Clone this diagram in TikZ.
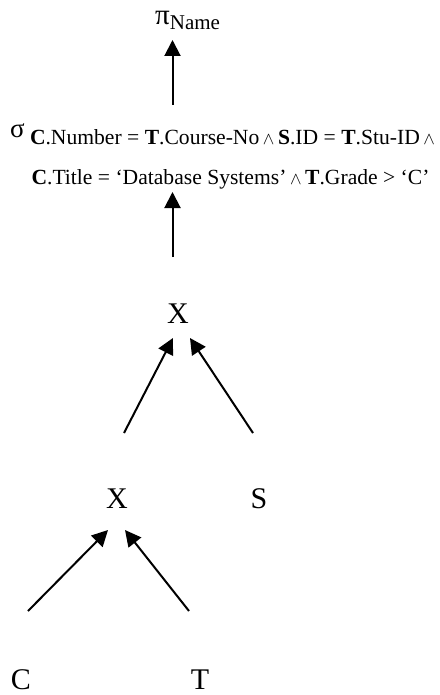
\documentclass[tikz,border=0pt]{standalone}
\usepackage{fontspec}
\setmainfont{Liberation Serif}
\usetikzlibrary{arrows.meta}
\begin{document}
\begin{tikzpicture}[x=1pt,y=-1pt,
  lbl/.style={inner sep=0pt,outer sep=0pt,anchor=base,font=\fontsize{30}{30}\selectfont},
  cond/.style={inner sep=0pt,outer sep=0pt,anchor=base west,font=\fontsize{21.6}{21.6}\selectfont},
  arr/.style={line width=2pt,-{Triangle[length=16pt,width=16pt]}}]
\useasboundingbox[fill=white] (0,0) rectangle (439,695);
\newcommand{\andop}{\,{\fontsize{16}{16}\selectfont$\wedge$}\,}
% projection
\node[inner sep=0pt,anchor=base west] (pi) at (155,25)
  {{\fontsize{29}{29}\selectfont π}\raisebox{-5pt}{\fontsize{21}{21}\selectfont Name}};
% selection
\node[inner sep=0pt,anchor=base west,font=\fontsize{27}{27}\selectfont] (sig) at (10,138) {σ};
\node[cond] (c1) at (30,145) {\textbf{C}.Number = \textbf{T}.Course-No\andop\textbf{S}.ID = \textbf{T}.Stu-ID\andop};
\node[cond] (c2) at (31.5,184) {\textbf{C}.Title = ‘Database Systems’\andop\textbf{T}.Grade > ‘C’};
% joins and relations
\node[lbl] (x1) at (178,323) {X};
\node[lbl] (x2) at (117,508) {X};
\node[lbl] (s) at (259,508) {S};
\node[lbl] (c) at (21,689) {C};
\node[lbl] (t) at (200,689) {T};
% connector ends
\coordinate (a1s) at (172.5,105);
\coordinate (a1e) at (172.5,40);
\coordinate (a2s) at (172.5,257);
\coordinate (a2e) at (172.5,192);
\coordinate (x2s) at (124,433);
\coordinate (x2e) at (173,338);
\coordinate (ss) at (253,433);
\coordinate (se) at (190,338);
\coordinate (cs) at (28,611);
\coordinate (ce) at (108,530);
\coordinate (ts) at (189,611);
\coordinate (te) at (125,530);
\draw[arr] (a1s) -- (a1e);
\draw[arr] (a2s) -- (a2e);
\draw[arr] (x2s) -- (x2e);
\draw[arr] (ss) -- (se);
\draw[arr] (cs) -- (ce);
\draw[arr] (ts) -- (te);
\end{tikzpicture}
\end{document}
